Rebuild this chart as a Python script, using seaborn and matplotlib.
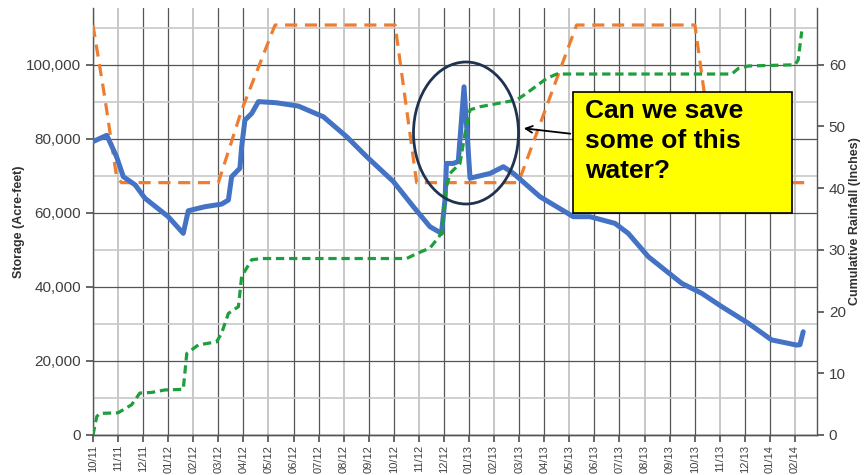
import matplotlib
matplotlib.use('Agg')
import matplotlib.pyplot as plt
import matplotlib.patches as mpatches
from matplotlib.ticker import FuncFormatter, MultipleLocator
import seaborn as sns

# month offsets from Oct 2011 (0 = 10/11)
month_labels = ['10/11', '11/11', '12/11', '01/12', '02/12', '03/12', '04/12', '05/12',
                '06/12', '07/12', '08/12', '09/12', '10/12', '11/12', '12/12', '01/13',
                '02/13', '03/13', '04/13', '05/13', '06/13', '07/13', '08/13', '09/13',
                '10/13', '11/13', '12/13', '01/14', '02/14']

# Storage (acre-feet), blue
storage_month = [0.0, 0.55, 0.94, 1.21, 1.68, 2.07, 3.0, 3.6, 3.8, 4.47, 5.13, 5.4, 5.53,
                 5.86, 5.93, 6.06, 6.33, 6.6, 7.3, 8.19, 9.19, 10.12, 10.92, 11.98, 12.78,
                 13.44, 13.9, 14.04, 14.1, 14.37, 14.57, 14.8, 15.04, 15.84, 16.37, 16.77,
                 17.83, 19.16, 19.82, 20.82, 21.35, 22.15, 23.48, 24.28, 25.08, 26.14,
                 27.07, 28.07, 28.2, 28.33]
storage_af = [79300, 81000, 75200, 69800, 67600, 64000, 59000, 54500, 60600, 61700, 62400,
              63500, 69800, 72100, 77900, 85100, 86900, 90100, 89800, 88900, 86000, 80600,
              75200, 68500, 61700, 56300, 54500, 63500, 73400, 73400, 73900, 94100, 69400,
              70700, 72500, 70700, 64400, 59000, 59000, 57200, 54500, 48200, 41000, 38300,
              34700, 30200, 25700, 24300, 24400, 27900]

# rule curve (acre-feet), orange dashed
rule_month = [0.0, 0.48, 0.94, 1.14, 5.0, 5.93, 7.26, 12.05, 12.91, 16.97, 19.29, 24.01,
              24.35, 24.9, 28.4]
rule_af = [110800, 90800, 69800, 68200, 68200, 87800, 110800, 110800, 68200, 68200,
           110800, 110800, 94100, 68200, 68200]

# cumulative rainfall (inches), green dashed, right axis
rain_month = [0.0, 0.15, 0.28, 1.0, 1.54, 1.87, 2.34, 2.87, 3.6, 3.74, 4.2, 4.93, 5.13, 5.4,
              5.8, 5.93, 6.33, 6.73, 12.51, 12.91, 13.44, 13.7, 13.9, 14.1, 14.24, 14.64,
              14.84, 15.04, 15.44, 16.9, 17.3, 18.1, 18.5, 25.48, 25.74, 26.14, 28.0, 28.13,
              28.27]
rain_in = [0.0, 3.0, 3.5, 3.6, 4.9, 6.8, 6.9, 7.3, 7.4, 13.2, 14.6, 15.1, 16.5, 19.7, 20.8,
           25.7, 28.4, 28.6, 28.6, 29.4, 30.3, 31.6, 32.7, 40.2, 42.4, 44.0, 48.9, 52.7, 53.2,
           54.3, 55.4, 57.8, 58.5, 58.5, 59.4, 59.8, 60.0, 60.8, 65.4]

sns.set_theme(style='white')
plt.rcParams['font.family'] = ['Liberation Sans', 'DejaVu Sans']
txt = '#404040'

fig = plt.figure(figsize=(8.65, 4.75), dpi=100)
ax = fig.add_axes([93/865, 1-435/475, (817-93)/865, (435-8)/475])
ax2 = ax.twinx()

sns.lineplot(x=rule_month, y=rule_af, ax=ax, sort=False, color='#ED7D31', lw=2.3,
             dashes=False, linestyle=(0, (3.8, 2.4)), zorder=3)
sns.lineplot(x=storage_month, y=storage_af, ax=ax, sort=False, color='#4472C4', lw=3.6,
             solid_capstyle='round', solid_joinstyle='round', zorder=4)
sns.lineplot(x=rain_month, y=rain_in, ax=ax2, sort=False, color='#1E9E3C', lw=2.3,
             dashes=False, linestyle=(0, (2.6, 1.5)))

ax.set_xlim(0, 28.88)
ax.set_ylim(0, 115400)
ax2.set_ylim(0, 69.2)

ax.set_xticks(range(len(month_labels)))
ax.set_xticklabels(month_labels, rotation=90, fontsize=8, color=txt)
ax.yaxis.set_major_locator(MultipleLocator(20000))
ax.yaxis.set_minor_locator(MultipleLocator(10000))
ax.yaxis.set_major_formatter(FuncFormatter(lambda v, p: f'{v:,.0f}'))
ax.tick_params(axis='y', labelsize=11, labelcolor=txt, length=5, color='#555555', left=True)
ax.tick_params(axis='x', length=5, color='#555555', bottom=True, pad=2)
ax2.yaxis.set_major_locator(MultipleLocator(10))
ax2.tick_params(axis='y', labelsize=11, labelcolor=txt, length=5, color='#555555', right=True)

# grid: monthly verticals, 10k horizontals
ax.grid(True, axis='x', which='major')
for i, gl in enumerate(ax.get_xgridlines()):
    if i % 3 == 1:
        gl.set_color('#bdbdbd'); gl.set_linewidth(1.2)
    else:
        gl.set_color('#555555'); gl.set_linewidth(0.9)
ax.grid(True, axis='y', which='major', color='#555555', lw=0.9)
ax.grid(True, axis='y', which='minor', color='#c8c8c8', lw=1.2)
ax.tick_params(axis='y', which='minor', left=False)
ax.set_axisbelow(True)
ax2.grid(False)

for a in (ax, ax2):
    a.spines['top'].set_visible(False)
    for s in ('left', 'right', 'bottom'):
        a.spines[s].set_color('#555555')
        a.spines[s].set_linewidth(1.0)
ax.spines['right'].set_visible(False)
ax2.spines['left'].set_visible(False)

ax.set_ylabel('Storage (Acre-feet)', fontsize=9, fontweight='bold', color='#303030', labelpad=1)
ax2.set_ylabel('Cumulative Rainfall (Inches)', fontsize=9, fontweight='bold', color='#303030',
               labelpad=2)

# call-out: ellipse, arrow and yellow box
ell = mpatches.Ellipse((466/865, 1-133/475), 105/865, 142/475, transform=fig.transFigure,
                       fill=False, edgecolor='#1F3350', lw=2.0, zorder=10)
fig.add_artist(ell)
box = mpatches.Rectangle((573/865, 1-213/475), 219/865, 121/475, transform=fig.transFigure,
                         facecolor='#FFFF00', edgecolor='black', lw=1.2, zorder=10)
fig.add_artist(box)
fig.text(585/865, 1-99/475, 'Can we save\nsome of this\nwater?', fontsize=19,
         fontweight='bold', color='black', va='top', ha='left', linespacing=1.32, zorder=11)
ax2.annotate('', xy=(521/865, 1-128/475), xytext=(573/865, 1-134/475),
             xycoords='figure fraction', textcoords='figure fraction',
             arrowprops=dict(arrowstyle='->', color='black', lw=1.3), zorder=11)

plt.savefig('out.png', dpi=100)
